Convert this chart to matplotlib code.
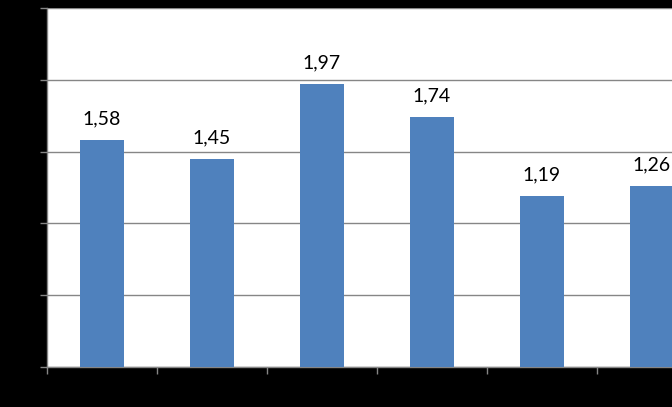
import matplotlib.pyplot as plt

categories = ['A', 'B', 'C', 'D', 'E', 'F']
values = [1.58, 1.45, 1.97, 1.74, 1.19, 1.26]
labels = ['1,58', '1,45', '1,97', '1,74', '1,19', '1,26']
y_ticks = [0, 0.5, 1.0, 1.5, 2.0, 2.5]

W, H = 672, 407
fig = plt.figure(figsize=(W / 100, H / 100), dpi=100, facecolor='black')

# plot area runs past the right edge of the picture (chart is cropped)
ax = fig.add_axes([47 / W, 40 / H, 660 / W, 359 / H])
ax.set_facecolor('white')

x = list(range(len(categories)))
ax.bar(x, values, width=0.4, color='#4F81BD', zorder=3)

for xi, v, lab in zip(x, values, labels):
    ax.annotate(lab, (xi, v), xytext=(0, 9), textcoords='offset points',
                ha='center', va='bottom', fontsize=14, family='Lato', color='black')

ax.set_xlim(-0.5, len(categories) - 0.5)
ax.set_ylim(0, 2.5)
ax.set_yticks(y_ticks)
ax.yaxis.grid(True, color='#868686', linewidth=1, zorder=0)
ax.set_yticklabels([])

ax.set_xticks([i - 0.5 for i in range(len(categories) + 1)])
ax.set_xticklabels([])
ax.tick_params(axis='both', color='#868686', length=5, width=1, direction='out')

for side in ['top', 'right']:
    ax.spines[side].set_visible(False)
for side in ['left', 'bottom']:
    ax.spines[side].set_color('#868686')
    ax.spines[side].set_linewidth(1)

fig.savefig('out.png', dpi=100, facecolor='black')
